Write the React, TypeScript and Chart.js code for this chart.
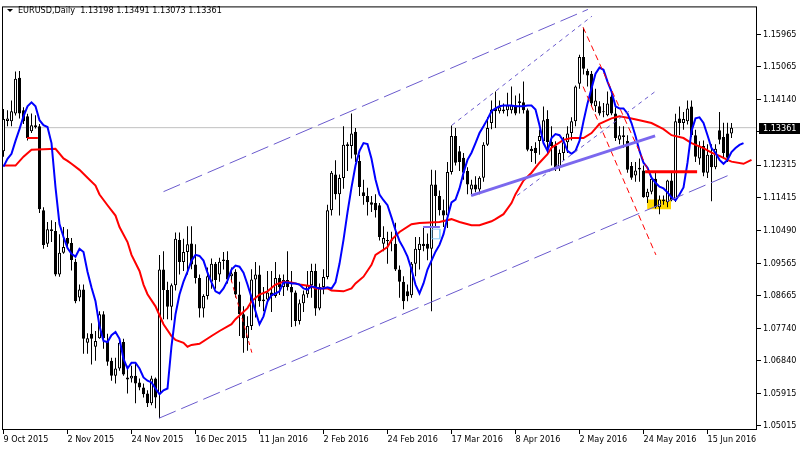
import React, { useEffect, useRef } from 'react';
import { Chart, registerables } from 'chart.js';

Chart.register(...registerables);

const FONT_FAMILY = '"DejaVu Sans Condensed", "DejaVu Sans", sans-serif';
const FONT_SIZE = 9;

const symbolTitle = 'EURUSD,Daily';
const lastBarOHLC = [1.13198, 1.13491, 1.13073, 1.13361];

const xTickIndex = [0, 16, 32, 48, 64, 80, 96, 112, 128, 144, 160, 176];
const xTickLabels = ['9 Oct 2015', '2 Nov 2015', '24 Nov 2015', '16 Dec 2015', '11 Jan 2016', '2 Feb 2016', '24 Feb 2016', '17 Mar 2016', '8 Apr 2016', '2 May 2016', '24 May 2016', '15 Jun 2016'];
const yTickValues = [1.15965, 1.15065, 1.1414, 1.1324, 1.12315, 1.11415, 1.1049, 1.09565, 1.08665, 1.0774, 1.0684, 1.05915, 1.05015];

const X_MIN = -0.125;
const X_MAX = 188.375;
const Y_MIN = 1.04899;
const Y_MAX = 1.167269;

const opens = [
  1.1270, 1.1355, 1.1354, 1.1376, 1.1476, 1.1385, 1.1368, 1.1326, 1.1343, 1.1340,
  1.1105, 1.1011, 1.1052, 1.1047, 1.0925, 1.0986, 1.1027, 1.1013, 1.0961, 1.0861,
  1.0883, 1.0734, 1.0759, 1.0723, 1.0747, 1.0814, 1.0739, 1.0684, 1.0642, 1.0662,
  1.0736, 1.0637, 1.0634, 1.0642, 1.0623, 1.0609, 1.0592, 1.0565, 1.0634, 1.0590,
  1.0939, 1.0882, 1.0835, 1.0895, 1.1022, 1.0960, 1.0988, 1.1012, 1.0953, 1.0915,
  1.0830, 1.0865, 1.0905, 1.0955, 1.0925, 1.0967, 1.0966, 1.0920, 1.0933, 1.0869,
  1.0814, 1.0747, 1.0781, 1.0911, 1.0925, 1.0850, 1.0855, 1.0875, 1.0865, 1.0915,
  1.0890, 1.0910, 1.0890, 1.0875, 1.0795, 1.0845, 1.0870, 1.0895, 1.0935, 1.0830,
  1.0890, 1.0918, 1.1105, 1.1205, 1.1150, 1.1195, 1.1290, 1.1285, 1.1325, 1.1243,
  1.1155, 1.1145, 1.1127, 1.1125, 1.1119, 1.1011, 1.1022, 1.1018, 1.1011, 1.0939,
  1.0905, 1.0878, 1.0867, 1.0955, 1.0994, 1.1011, 1.1011, 1.0997, 1.1177, 1.1145,
  1.1105, 1.1090, 1.1212, 1.1313, 1.1270, 1.1252, 1.1215, 1.1163, 1.1177, 1.1163,
  1.1196, 1.1288, 1.1349, 1.1390, 1.1382, 1.1387, 1.1385, 1.1385, 1.1398, 1.1405,
  1.1407, 1.1385, 1.1277, 1.1280, 1.1299, 1.1299, 1.1360, 1.1296, 1.1285, 1.1225,
  1.1265, 1.1295, 1.1321, 1.1354, 1.1459, 1.1534, 1.1495, 1.1487, 1.1396, 1.1396,
  1.1381, 1.1371, 1.1423, 1.1376, 1.1302, 1.1315, 1.1299, 1.1229, 1.1202, 1.1224,
  1.1216, 1.1141, 1.1157, 1.1193, 1.1113, 1.1135, 1.1127, 1.1188, 1.1133, 1.1362,
  1.1349, 1.1354, 1.1395, 1.1315, 1.1250, 1.1285, 1.1210, 1.1260, 1.1225, 1.1329,
  1.1310, 1.1320, 1.13198,
];
const highs = [
  1.1388, 1.1385, 1.1412, 1.1493, 1.1495, 1.1393, 1.1375, 1.1376, 1.1371, 1.1346,
  1.1113, 1.1072, 1.1077, 1.1072, 1.1038, 1.1058, 1.1052, 1.1027, 1.0969, 1.0897,
  1.0897, 1.0761, 1.0789, 1.0767, 1.0822, 1.0822, 1.0759, 1.0692, 1.0692, 1.0739,
  1.0745, 1.0670, 1.0670, 1.0676, 1.0634, 1.0620, 1.0601, 1.0642, 1.0637, 1.0980,
  1.0990, 1.0905, 1.0900, 1.1043, 1.1043, 1.1025, 1.1060, 1.1060, 1.1010, 1.0925,
  1.0870, 1.0945, 1.0970, 1.0960, 1.0972, 1.0988, 1.0990, 1.0945, 1.0940, 1.0905,
  1.0836, 1.0808, 1.0940, 1.0960, 1.0950, 1.0890, 1.0935, 1.0935, 1.0960, 1.0925,
  1.0925, 1.0990, 1.0935, 1.0880, 1.0855, 1.0880, 1.0935, 1.0955, 1.0955, 1.0900,
  1.0940, 1.1120, 1.1215, 1.1245, 1.1205, 1.1340, 1.1295, 1.1376, 1.1335, 1.1260,
  1.1190, 1.1168, 1.1145, 1.1150, 1.1125, 1.1060, 1.1045, 1.1045, 1.1070, 1.0950,
  1.0920, 1.0897, 1.0960, 1.1030, 1.1030, 1.1055, 1.1040, 1.1218, 1.1217, 1.1160,
  1.1135, 1.1240, 1.1342, 1.1335, 1.1285, 1.1265, 1.1225, 1.1190, 1.1200, 1.1200,
  1.1295, 1.1365, 1.1412, 1.1437, 1.1412, 1.1404, 1.1434, 1.1451, 1.1426, 1.1432,
  1.1465, 1.1390, 1.1285, 1.1295, 1.1330, 1.1395, 1.1385, 1.1340, 1.1298, 1.1275,
  1.1310, 1.1340, 1.1365, 1.1454, 1.1540, 1.1616, 1.1501, 1.1495, 1.1445, 1.1410,
  1.1405, 1.1437, 1.1429, 1.1393, 1.1340, 1.1340, 1.1315, 1.1240, 1.1240, 1.1250,
  1.1230, 1.1165, 1.1200, 1.1215, 1.1146, 1.1146, 1.1190, 1.1210, 1.1375, 1.1395,
  1.1380, 1.1412, 1.1412, 1.1330, 1.1298, 1.1300, 1.1290, 1.1290, 1.1290, 1.1380,
  1.1350, 1.1350, 1.13491,
];
const lows = [
  1.1255, 1.1340, 1.1340, 1.1370, 1.1362, 1.1346, 1.1300, 1.1321, 1.1334, 1.1097,
  1.0997, 1.1002, 1.1016, 1.0920, 1.0919, 1.0983, 1.0997, 1.0936, 1.0845, 1.0850,
  1.0703, 1.0703, 1.0673, 1.0684, 1.0745, 1.0717, 1.0670, 1.0628, 1.0620, 1.0656,
  1.0642, 1.0592, 1.0623, 1.0565, 1.0601, 1.0581, 1.0554, 1.0559, 1.0551, 1.0523,
  1.0800, 1.0800, 1.0797, 1.0880, 1.0925, 1.0935, 1.0925, 1.0940, 1.0900, 1.0805,
  1.0805, 1.0855, 1.0885, 1.0885, 1.0905, 1.0939, 1.0900, 1.0905, 1.0861, 1.0753,
  1.0706, 1.0712, 1.0770, 1.0805, 1.0835, 1.0822, 1.0845, 1.0820, 1.0860, 1.0868,
  1.0865, 1.0880, 1.0778, 1.0780, 1.0785, 1.0820, 1.0860, 1.0860, 1.0810, 1.0825,
  1.0870, 1.0912, 1.1090, 1.1135, 1.1090, 1.1165, 1.1215, 1.1250, 1.1240, 1.1145,
  1.1120, 1.1090, 1.1100, 1.1085, 1.1020, 1.0990, 1.0955, 1.0990, 1.0935, 1.0860,
  1.0828, 1.0850, 1.0860, 1.0920, 1.0939, 1.0990, 1.0965, 1.0822, 1.1060, 1.1090,
  1.1058, 1.1055, 1.1205, 1.1230, 1.1215, 1.1190, 1.1150, 1.1146, 1.1155, 1.1150,
  1.1185, 1.1285, 1.1332, 1.1335, 1.1376, 1.1376, 1.1368, 1.1376, 1.1371, 1.1376,
  1.1376, 1.1270, 1.1240, 1.1235, 1.1260, 1.1296, 1.1265, 1.1230, 1.1215, 1.1215,
  1.1245, 1.1265, 1.1300, 1.1340, 1.1445, 1.1485, 1.1451, 1.1396, 1.1380, 1.1370,
  1.1365, 1.1368, 1.1371, 1.1299, 1.1290, 1.1280, 1.1210, 1.1190, 1.1185, 1.1185,
  1.1140, 1.1125, 1.1150, 1.1110, 1.1094, 1.1120, 1.1113, 1.1130, 1.1128, 1.1315,
  1.1330, 1.1345, 1.1310, 1.1240, 1.1232, 1.1200, 1.1195, 1.1130, 1.1220, 1.1290,
  1.1250, 1.1240, 1.13073,
];
const closes = [
  1.1360, 1.1362, 1.1382, 1.1473, 1.1376, 1.1354, 1.1307, 1.1343, 1.1338, 1.1108,
  1.1008, 1.1052, 1.1047, 1.0925, 1.0986, 1.1002, 1.1011, 1.0966, 1.0850, 1.0883,
  1.0745, 1.0747, 1.0745, 1.0739, 1.0814, 1.0747, 1.0681, 1.0642, 1.0662, 1.0734,
  1.0645, 1.0631, 1.0642, 1.0620, 1.0609, 1.0590, 1.0565, 1.0634, 1.0581, 1.0939,
  1.0882, 1.0835, 1.0895, 1.1025, 1.0960, 1.0988, 1.1010, 1.0953, 1.0915, 1.0830,
  1.0865, 1.0920, 1.0955, 1.0910, 1.0961, 1.0963, 1.0911, 1.0928, 1.0869, 1.0814,
  1.0747, 1.0781, 1.0911, 1.0925, 1.0850, 1.0855, 1.0875, 1.0865, 1.0915, 1.0890,
  1.0910, 1.0890, 1.0875, 1.0795, 1.0845, 1.0870, 1.0895, 1.0935, 1.0830, 1.0890,
  1.0918, 1.1105, 1.1210, 1.1150, 1.1195, 1.1288, 1.1285, 1.1320, 1.1260, 1.1170,
  1.1145, 1.1127, 1.1120, 1.1105, 1.1030, 1.1027, 1.1018, 1.1020, 1.0939, 1.0905,
  1.0850, 1.0864, 1.0955, 1.0997, 1.1011, 1.1005, 1.0997, 1.1177, 1.1145, 1.1105,
  1.1090, 1.1212, 1.1313, 1.1238, 1.1240, 1.1210, 1.1177, 1.1177, 1.1163, 1.1196,
  1.1288, 1.1335, 1.1387, 1.1382, 1.1393, 1.1382, 1.1398, 1.1398, 1.1376, 1.1410,
  1.1385, 1.1274, 1.1271, 1.1265, 1.1313, 1.1357, 1.1296, 1.1285, 1.1225, 1.1265,
  1.1295, 1.1320, 1.1354, 1.1451, 1.1534, 1.1501, 1.1482, 1.1404, 1.1412, 1.1376,
  1.1379, 1.1404, 1.1376, 1.1307, 1.1315, 1.1310, 1.1218, 1.1196, 1.1216, 1.1219,
  1.1141, 1.1157, 1.1193, 1.1113, 1.1135, 1.1130, 1.1188, 1.1133, 1.1354, 1.1349,
  1.1360, 1.1390, 1.1315, 1.1255, 1.1285, 1.1210, 1.1260, 1.1225, 1.1277, 1.1302,
  1.1265, 1.1252, 1.13361,
];

// Blue moving average (one value per bar, shifted past the last bar)
const blueMA = [
  1.1227, 1.1249, 1.1263, 1.1299, 1.1332, 1.1368, 1.1396, 1.1407, 1.1396, 1.1357,
  1.1343, 1.1338, 1.1293, 1.1169, 1.1066, 1.1030, 1.0999, 1.0983, 1.0975, 1.0997,
  1.0988, 1.0933, 1.0889, 1.0850, 1.0781, 1.0739, 1.0736, 1.0755, 1.0764, 1.0745,
  1.0689, 1.0662, 1.0678, 1.0678, 1.0662, 1.0637, 1.0628, 1.0623, 1.0606, 1.0590,
  1.0601, 1.0606, 1.0725, 1.0814, 1.0869, 1.0905, 1.0933, 1.0964, 1.0980, 1.0977,
  1.0964, 1.0930, 1.0903, 1.0878, 1.0872, 1.0886, 1.0908, 1.0939, 1.0950, 1.0947,
  1.0930, 1.0897, 1.0861, 1.0822, 1.0786, 1.0808, 1.0850, 1.0867, 1.0872, 1.0878,
  1.0903, 1.0903, 1.0900, 1.0900, 1.0897, 1.0886, 1.0883, 1.0892, 1.0889, 1.0886,
  1.0886, 1.0889, 1.0886, 1.0903, 1.0955, 1.1022, 1.1099, 1.1169, 1.1230, 1.1271,
  1.1293, 1.1290, 1.1249, 1.1191, 1.1149, 1.1133, 1.1119, 1.1085, 1.1049, 1.1019,
  1.0999, 1.0975, 1.0939, 1.0897, 1.0872, 1.0900, 1.0939, 1.0964, 1.0989, 1.1008,
  1.1038, 1.1085, 1.1127, 1.1135, 1.1166, 1.1210, 1.1246, 1.1266, 1.1293, 1.1321,
  1.1340, 1.1360, 1.1382, 1.1390, 1.1396, 1.1398, 1.1398, 1.1398, 1.1396, 1.1396,
  1.1396, 1.1398, 1.1398, 1.1387, 1.1343, 1.1293, 1.1271, 1.1307, 1.1318, 1.1315,
  1.1299, 1.1271, 1.1263, 1.1271, 1.1299, 1.1354, 1.1404, 1.1446, 1.1487, 1.1504,
  1.1498, 1.1465, 1.1437, 1.1396, 1.1390, 1.1390, 1.1376, 1.1349, 1.1313, 1.1271,
  1.1238, 1.1224, 1.1196, 1.1182, 1.1171, 1.1166, 1.1155, 1.1141, 1.1133, 1.1149,
  1.1169, 1.1238, 1.1326, 1.1362, 1.1365, 1.1349, 1.1315, 1.1279, 1.1266, 1.1246,
  1.1235, 1.1246, 1.1268, 1.1279, 1.1288, 1.1293,
];

// Red moving average, read at these bar positions
const redIdx = [0, 3, 5, 7, 13, 15, 16, 17, 19, 21, 23, 24, 26, 28, 29, 31, 32, 34, 35, 36, 38, 40, 42, 43, 45, 46, 47, 49, 52, 54, 57, 58, 61, 62, 64, 66, 68, 70, 72, 74, 77, 78, 81, 82, 85, 87, 88, 90, 92, 93, 96, 97, 99, 102, 104, 109, 112, 114, 117, 119, 122, 123, 125, 127, 128, 130, 132, 134, 136, 137, 140, 142, 145, 147, 149, 152, 154, 157, 159, 162, 165, 167, 170, 172, 175, 177, 179, 181, 182, 185, 187];
const redVal = [1.1230, 1.1230, 1.1255, 1.1274, 1.1277, 1.1250, 1.1243, 1.1235, 1.1218, 1.1196, 1.1174, 1.1149, 1.1119, 1.1090, 1.1058, 1.1016, 1.0980, 1.0935, 1.0897, 1.0870, 1.0836, 1.0786, 1.0753, 1.0742, 1.0734, 1.0723, 1.0728, 1.0731, 1.0753, 1.0767, 1.0786, 1.0800, 1.0831, 1.0850, 1.0869, 1.0878, 1.0897, 1.0905, 1.0903, 1.0897, 1.0892, 1.0886, 1.0886, 1.0880, 1.0878, 1.0886, 1.0900, 1.0919, 1.0952, 1.0980, 1.1002, 1.1022, 1.1044, 1.1066, 1.1069, 1.1072, 1.1080, 1.1072, 1.1063, 1.1063, 1.1074, 1.1080, 1.1094, 1.1125, 1.1150, 1.1188, 1.1210, 1.1238, 1.1262, 1.1280, 1.1302, 1.1307, 1.1307, 1.1321, 1.1347, 1.1362, 1.1368, 1.1362, 1.1357, 1.1349, 1.1332, 1.1315, 1.1307, 1.1293, 1.1279, 1.1266, 1.1257, 1.1246, 1.1241, 1.1235, 1.1246];

// Drawn objects: [barIndex, price] endpoints
const upperChannel = [[40, 1.1157], [146.1, 1.1667]];
const lowerChannel = [[38.9, 1.0523], [181.1, 1.1202]];
const forkLineA = [[112.1, 1.1343], [147.1, 1.1648]];
const forkLineB = [[128.4, 1.1146], [162.9, 1.1437]];
const trendLine = [[116.9, 1.1146], [162.9, 1.1313]];
const redDashA = [[144.9, 1.1617], [161.6, 1.1205]];
const redDashB = [[144.9, 1.1451], [163.1, 1.0980]];
const redDashC = [[56.9, 1.0911], [62.1, 1.0706]];
const redLevel = [[160.4, 1.1213], [173.4, 1.1213]];
const redLevelEarly = [[5.9, 1.1307], [8.6, 1.1307]];
const purpleLevel = [[104.9, 1.1058], [109.1, 1.1058]];
const blueBox = [[107.1, 1.1052], [109.1, 1.1052], [109.1, 1.1025], [107.1, 1.1025], [107.1, 1.1052]];
const yellowBoxX = [160.9, 166.9];
const yellowBoxY = [1.1135, 1.1108];

const pts = (arr: number[][]) => arr.map(([x, y]) => ({ x, y }));

const mtPlugin = {
  id: 'mt4decor',
  afterDraw(chart: any) {
    const { ctx, chartArea: a, scales } = chart;
    const y = scales.y;
    ctx.save();
    ctx.strokeStyle = '#000';
    ctx.lineWidth = 1;
    ctx.strokeRect(a.left - 0.5, a.top - 0.5, a.right - a.left, a.bottom - a.top);
    const py = Math.round(y.getPixelForValue(lastBarOHLC[3]));
    ctx.fillStyle = '#000';
    ctx.fillRect(a.right + 2, py - 5, 800 - a.right - 2, 11);
    ctx.fillStyle = '#fff';
    ctx.font = `${FONT_SIZE}px ${FONT_FAMILY}`;
    ctx.textBaseline = 'middle';
    ctx.textAlign = 'left';
    ctx.fillText(lastBarOHLC[3].toFixed(5), a.right + 6, py + 0.5);
    ctx.fillStyle = '#000';
    ctx.beginPath();
    ctx.moveTo(7, 9);
    ctx.lineTo(13, 9);
    ctx.lineTo(10, 12);
    ctx.closePath();
    ctx.fill();
    ctx.fillText(`${symbolTitle}  ${lastBarOHLC.map((v) => v.toFixed(5)).join(' ')}`, 18, 11);
    ctx.restore();
  },
};

export default function App() {
  const ref = useRef<HTMLCanvasElement>(null);
  useEffect(() => {
    document.body.style.margin = '0';
    const canvas = ref.current;
    if (!canvas) return;
    Chart.defaults.font.family = FONT_FAMILY;
    const bodies = opens.map((o, i) => ({ x: i, y: [Math.min(o, closes[i]), Math.max(o, closes[i])] }));
    const wicks = highs.map((h, i) => ({ x: i, y: [lows[i], h] }));
    const bodyColors = opens.map((o, i) => (closes[i] >= o ? '#ffffff' : '#000000'));
    const blue = blueMA.map((v, i) => ({ x: i, y: v }));
    const red = redIdx.map((x, i) => ({ x, y: redVal[i] }));
    const priceLine = [{ x: X_MIN, y: lastBarOHLC[3] }, { x: X_MAX, y: lastBarOHLC[3] }];
    const line = (data: any[], color: string, width: number, dash: number[], order: number) => ({
      type: 'line', data, borderColor: color, borderWidth: width, borderDash: dash,
      pointRadius: 0, fill: false, tension: 0, order,
    });
    const chart = new Chart(canvas, {
      type: 'bar',
      data: {
        datasets: [
          line(pts(upperChannel), '#6a5acd', 1, [18, 6], 1),
          line(pts(lowerChannel), '#6a5acd', 1, [18, 6], 1),
          line(pts(forkLineA), '#6a5acd', 1, [4, 4], 1),
          line(pts(forkLineB), '#6a5acd', 1, [4, 4], 1),
          line(pts(trendLine), '#7b68ee', 3, [], 1),
          line(pts(redDashA), '#ff0000', 1, [6, 4], 1),
          line(pts(redDashB), '#ff0000', 1, [6, 4], 1),
          line(pts(redDashC), '#ff0000', 1, [4, 4], 1),
          line(pts(redLevel), '#ff0000', 3, [], 1),
          line(pts(redLevelEarly), '#ff0000', 2, [], 1),
          line(pts(purpleLevel), '#7b68ee', 2, [], 1),
          line(pts(blueBox), '#87cefa', 1, [], 1),
          line(blue, '#0000ff', 2, [], 3),
          line(red, '#ff0000', 2, [], 4),
          {
            type: 'bar', data: bodies, backgroundColor: bodyColors, borderColor: '#000000',
            borderWidth: 1, borderSkipped: false, barThickness: 3, grouped: false,
            minBarLength: 1, inflateAmount: 0, order: 5,
          },
          {
            type: 'bar', data: wicks, backgroundColor: '#000000', borderWidth: 0,
            barThickness: 1, grouped: false, inflateAmount: 0, order: 6,
          },
          line(priceLine, '#c0c0c0', 1, [], 7),
          {
            type: 'line', data: [{ x: yellowBoxX[0], y: yellowBoxY[0] }, { x: yellowBoxX[1], y: yellowBoxY[0] }],
            borderColor: 'rgba(0,0,0,0)', borderWidth: 1, pointRadius: 0, fill: '+1',
            backgroundColor: '#ffd700', order: 8,
          },
          {
            type: 'line', data: [{ x: yellowBoxX[0], y: yellowBoxY[1] }, { x: yellowBoxX[1], y: yellowBoxY[1] }],
            borderColor: 'rgba(0,0,0,0)', borderWidth: 1, pointRadius: 0, fill: false, order: 9,
          },
        ] as any,
      },
      options: {
        responsive: false,
        animation: false,
        events: [],
        layout: { padding: { top: 3, left: 3, right: 0, bottom: 0 } },
        plugins: { legend: { display: false }, tooltip: { enabled: false } },
        scales: {
          x: {
            type: 'linear', min: X_MIN, max: X_MAX, offset: false,
            afterBuildTicks: (s: any) => { s.ticks = xTickIndex.map((v) => ({ value: v })); },
            afterFit: (s: any) => { s.height = 20; },
            ticks: {
              autoSkip: false, maxRotation: 0, minRotation: 0, align: 'start', padding: 0,
              color: '#000', font: { family: FONT_FAMILY, size: FONT_SIZE },
              callback: (_v: any, idx: number) => xTickLabels[idx] ?? '',
            },
            grid: { display: true, drawOnChartArea: false, drawTicks: true, tickLength: 4, tickColor: '#000', offset: false },
            border: { display: false },
          },
          y: {
            type: 'linear', position: 'right', min: Y_MIN, max: Y_MAX, beginAtZero: false,
            afterBuildTicks: (s: any) => { s.ticks = yTickValues.map((v) => ({ value: v })); },
            afterFit: (s: any) => { s.width = 43; },
            ticks: {
              padding: 2, color: '#000', font: { family: FONT_FAMILY, size: FONT_SIZE },
              callback: (v: any) => Number(v).toFixed(5),
            },
            grid: { display: true, drawOnChartArea: false, drawTicks: true, tickLength: 4, tickColor: '#000' },
            border: { display: false },
          },
        },
      } as any,
      plugins: [mtPlugin],
    });
    return () => chart.destroy();
  }, []);
  return (
    <div style={{ width: 800, height: 450, background: '#fff' }}>
      <canvas ref={ref} width={800} height={450} style={{ display: 'block' }} />
    </div>
  );
}
